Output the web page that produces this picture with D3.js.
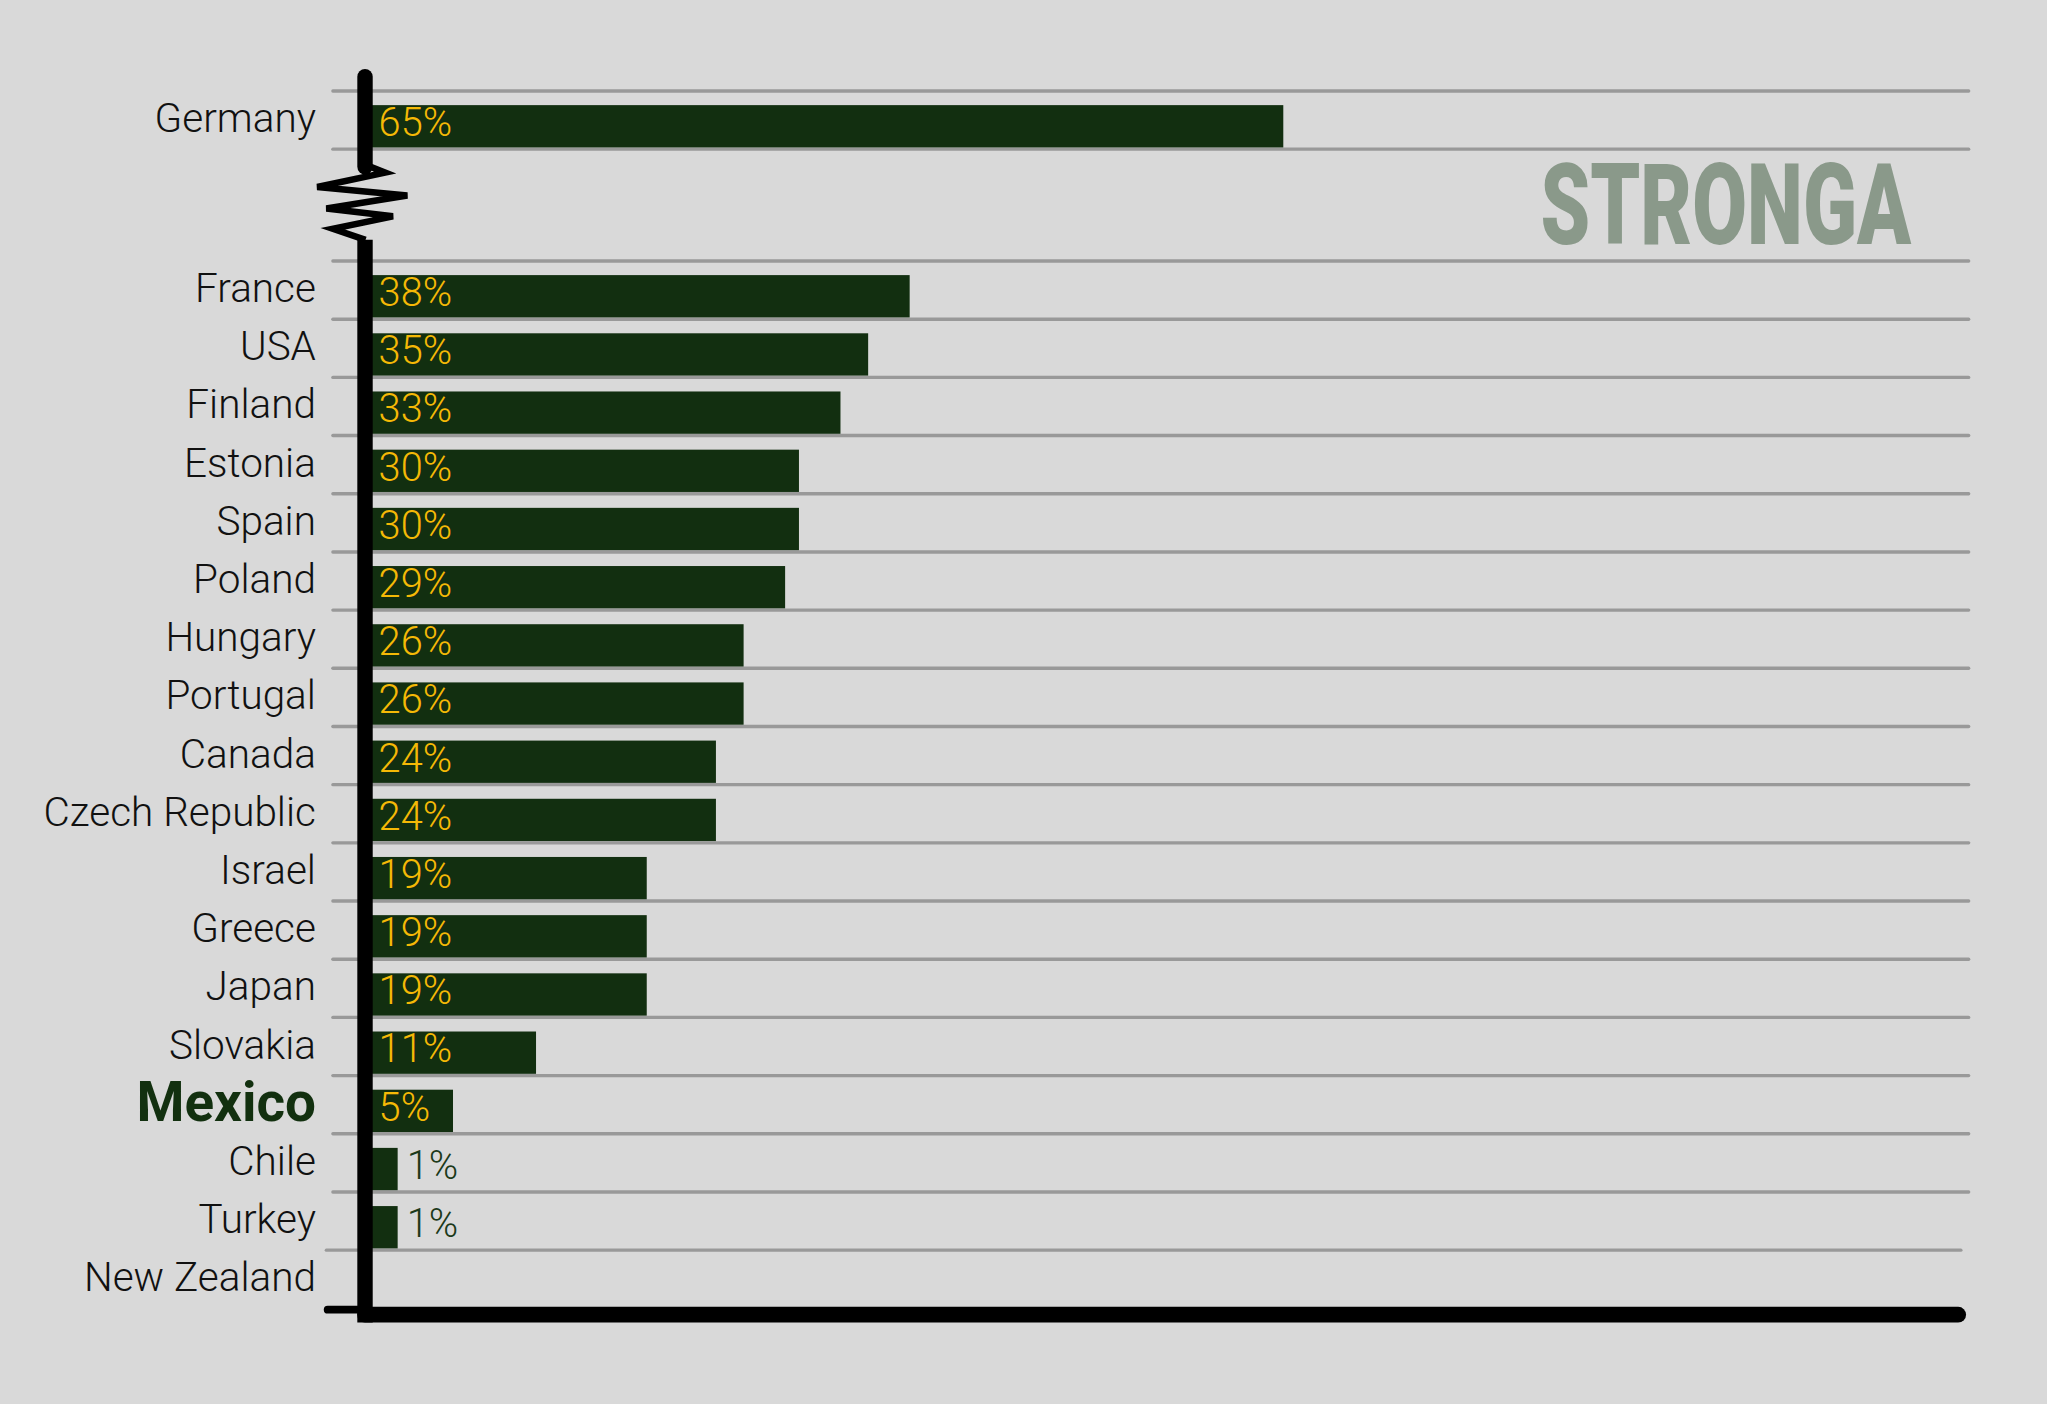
<!DOCTYPE html>
<html>
<head>
<meta charset="utf-8">
<script src="https://cdn.jsdelivr.net/npm/d3@7"></script>
<style>
  body { margin: 0; background: #d9d9d9; }
  svg { display: block; }
</style>
</head>
<body>
<div id="my_dataviz"></div>
<script>

var countries = ["Germany", "France", "USA", "Finland", "Estonia", "Spain", "Poland", "Hungary",
  "Portugal", "Canada", "Czech Republic", "Israel", "Greece", "Japan", "Slovakia", "Mexico",
  "Chile", "Turkey", "New Zealand"];
var values = [65, 38, 35, 33, 30, 30, 29, 26, 26, 24, 24, 19, 19, 19, 11, 5, 1, 1, null];
var highlight = "Mexico";
var brand = "STRONGA";

var data = countries.map(function(c, i) { return {country: c, value: values[i]}; });

// drawn in a 1568x1075 frame, scaled up to the page
var W = 1568, H = 1075;
var svg = d3.select("#my_dataviz").append("svg")
    .attr("width", 2047)
    .attr("height", 1404)
    .attr("viewBox", "0 0 " + W + " " + H);

var lightFont = "'Roboto Light', Roboto, 'Noto Sans', sans-serif";

// rows below the axis break
var step = 44.57;
var y = d3.scaleBand()
  .domain(countries.slice(1))
  .range([199.7, 199.7 + (countries.length - 1) * step]);
var topRow = 69.5; // Germany sits above the break
function rowTop(c) { return c === countries[0] ? topRow : y(c); }

var x = d3.scaleLinear().domain([0, 100]).range([294, 1354]);
var axisX = 279.6;

// grid lines
var gridY = [topRow, topRow + 44.5].concat(countries.slice(1).map(function(c) { return y(c); }));
svg.selectAll(".grid")
  .data(gridY)
  .enter().append("line")
    .attr("class", "grid")
    .attr("x1", function(d, i) { return i === gridY.length - 1 ? 250 : 255; })
    .attr("x2", function(d, i) { return i === gridY.length - 1 ? 1502 : 1508; })
    .attr("y1", function(d) { return d; })
    .attr("y2", function(d) { return d; })
    .attr("stroke", "#999999")
    .attr("stroke-width", 2.6)
    .attr("stroke-linecap", "round");

var withValue = data.filter(function(d) { return d.value != null; });

// bars
svg.selectAll(".bar")
  .data(withValue)
  .enter().append("rect")
    .attr("class", "bar")
    .attr("x", axisX)
    .attr("y", function(d) { return rowTop(d.country) + 10.8; })
    .attr("height", 32.4)
    .attr("width", function(d) { return x(d.value) - axisX; })
    .attr("fill", "#122f10");

// value labels, inside the bar when there is room
function inside(d) { return x(d.value) - 285 > 45; }
svg.selectAll(".val")
  .data(withValue)
  .enter().append("text")
    .attr("class", "val")
    .attr("x", function(d) { return inside(d) ? 290 : x(d.value) + 7; })
    .attr("y", function(d) { return rowTop(d.country) + 34.5; })
    .attr("fill", function(d) { return inside(d) ? "#f5b906" : "#1c3a1a"; })
    .style("font-family", lightFont)
    .style("font-weight", 300)
    .style("font-size", "30.5px")
    .text(function(d) { return d.value + "%"; });

// country labels
svg.selectAll(".lab")
  .data(data)
  .enter().append("text")
    .attr("class", "lab")
    .attr("x", 242)
    .attr("y", function(d) { return rowTop(d.country) + (d.country === highlight ? 35 : 31.5); })
    .attr("text-anchor", "end")
    .attr("fill", function(d) { return d.country === highlight ? "#12300f" : "#111111"; })
    .style("font-family", function(d) { return d.country === highlight ? "Roboto, sans-serif" : lightFont; })
    .style("font-weight", function(d) { return d.country === highlight ? 700 : 300; })
    .style("font-size", function(d) { return d.country === highlight ? "42px" : "31px"; })
    .text(function(d) { return d.country; });

// brand, squeezed to the logo's width
var logo = svg.append("text")
  .attr("y", 187)
  .attr("fill", "#8a998a")
  .style("font-family", "Roboto, sans-serif")
  .style("font-weight", 900)
  .style("font-size", "87px")
  .text(brand);
var sx = 284 / logo.node().getComputedTextLength();
logo.attr("x", 1180 / sx).attr("transform", "scale(" + sx + ",1)");

// axis with a break
var axis = svg.append("g").attr("stroke", "#000").attr("fill", "none");
axis.append("line")
  .attr("x1", axisX).attr("x2", axisX)
  .attr("y1", 58.5).attr("y2", 127.5)
  .attr("stroke-width", 11.8)
  .attr("stroke-linecap", "round");
axis.append("path")
  .attr("d", "M280,126 L295,132 L243,143 L312,149.5 L250,159.5 L301,165.5 L255,175 L280,183.5")
  .attr("stroke-width", 5)
  .attr("stroke-linejoin", "miter");
axis.append("line")
  .attr("x1", axisX).attr("x2", axisX)
  .attr("y1", 183.5).attr("y2", 1012.8)
  .attr("stroke-width", 11.8);
axis.append("line")
  .attr("x1", axisX).attr("x2", 1500)
  .attr("y1", 1006.8).attr("y2", 1006.8)
  .attr("stroke-width", 12)
  .attr("stroke-linecap", "round");
axis.append("line")
  .attr("x1", 251).attr("x2", 276)
  .attr("y1", 1003).attr("y2", 1003)
  .attr("stroke-width", 6)
  .attr("stroke-linecap", "round");

</script>
</body>
</html>
